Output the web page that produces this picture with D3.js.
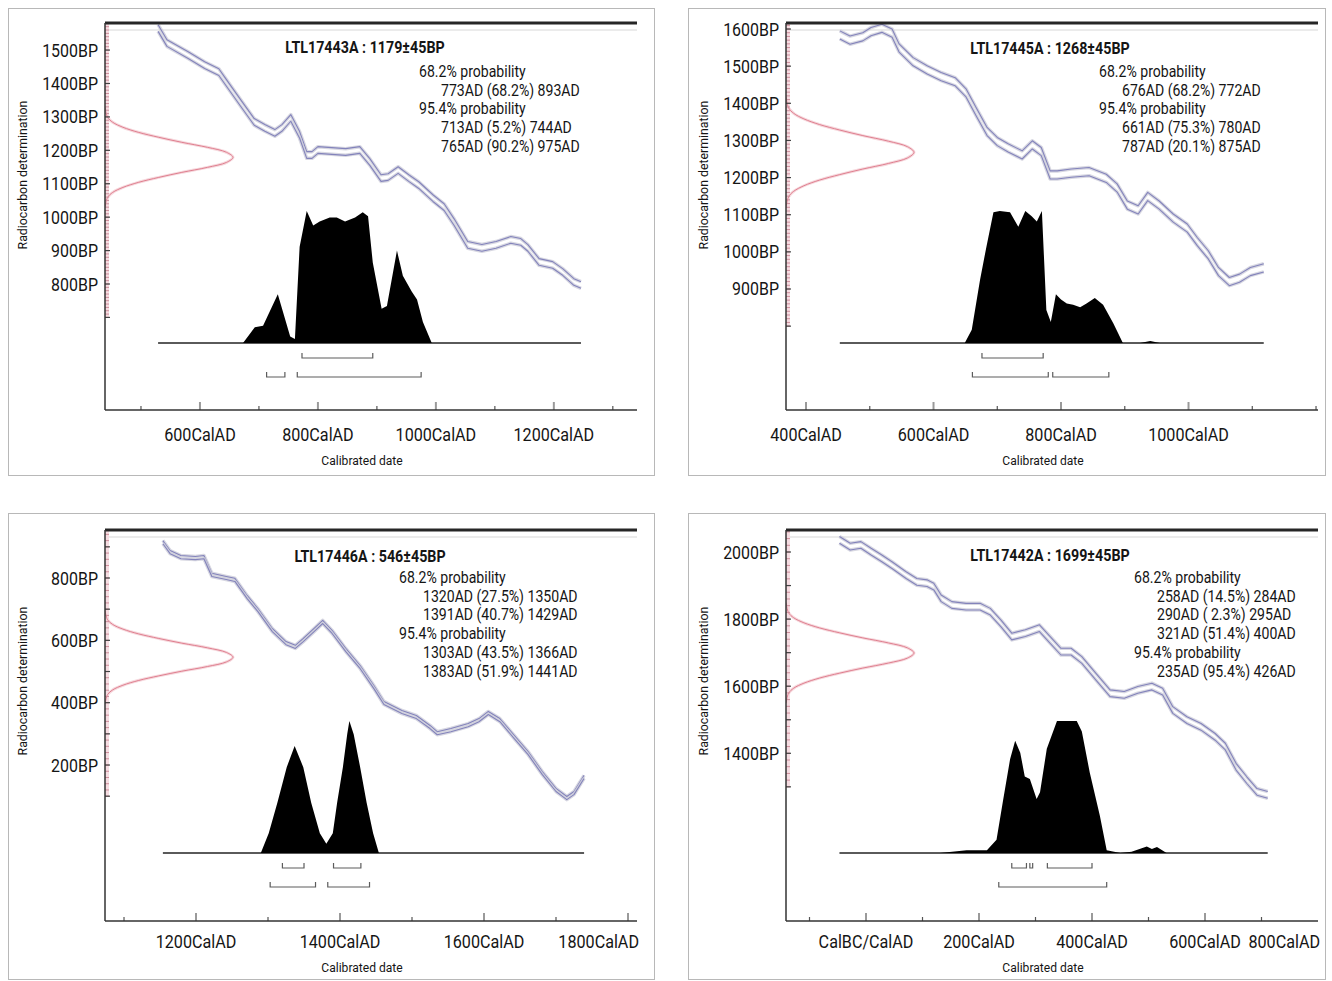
<!DOCTYPE html>
<html>
<head>
<meta charset="utf-8">
<script src="https://d3js.org/d3.v7.min.js"></script>
<style>
  body { margin: 0; background: white; }
  text { font-family: Roboto, "Liberation Sans", sans-serif; fill: #151515; }
</style>
</head>
<body>
<div id="chart"></div>
<script>
// ---------- LTL17443A ----------
var p1Date = [1179, 45];
var p1Curve = [[529,1566],[544,1521],[580,1485],[608,1455],[632,1434],[644,1404],[668,1344],[692,1285],[710,1267],[727,1252],[739,1267],[754,1297],[769,1246],[781,1186],[790,1186],[800,1201],[847,1195],[871,1201],[888,1165],[907,1117],[919,1120],[936,1141],[954,1117],[971,1096],[995,1057],[1014,1030],[1031,985],[1054,917],[1078,908],[1102,917],[1127,932],[1144,926],[1156,908],[1175,866],[1198,857],[1215,836],[1234,806],[1246,797]];
var p1Density = [[673,0],[693,0.12],[707,0.13],[732,0.37],[753,0.05],[761,0.03],[769,0.73],[781,1.0],[792,0.89],[803,0.92],[820,0.95],[832,0.95],[846,0.92],[863,0.95],[876,0.99],[885,0.96],[893,0.61],[908,0.26],[917,0.28],[934,0.7],[944,0.51],[959,0.39],[968,0.33],[978,0.16],[993,0]];
var p1Range68 = [[773,893]];
var p1Range95 = [[713,744],[765,975]];
var p1Text = ["68.2% probability","773AD (68.2%) 893AD","95.4% probability","713AD (5.2%) 744AD","765AD (90.2%) 975AD"];
var p1XTicks = [600, 800, 1000, 1200];
var p1XLabels = ["600CalAD","800CalAD","1000CalAD","1200CalAD"];
var p1YTicks = [800, 900, 1000, 1100, 1200, 1300, 1400, 1500];

// ---------- LTL17445A ----------
var p2Date = [1268, 45];
var p2Curve = [[453,1584],[469,1570],[489,1579],[502,1593],[519,1602],[535,1589],[546,1549],[568,1512],[590,1490],[612,1472],[634,1458],[651,1428],[667,1377],[684,1324],[700,1297],[717,1280],[739,1261],[755,1288],[769,1270],[783,1207],[794,1207],[816,1212],[844,1216],[871,1198],[888,1172],[904,1126],[921,1113],[936,1149],[954,1126],[976,1091],[998,1064],[1014,1027],[1031,992],[1047,947],[1064,920],[1080,929],[1097,947],[1118,957]];
var p2Density = [[649,0],[660,0.1],[673,0.48],[683,0.73],[694,0.99],[704,1.0],[720,0.99],[733,0.88],[744,1.0],[754,0.96],[762,0.92],[770,1.0],[777,0.25],[784,0.16],[792,0.37],[800,0.33],[809,0.3],[819,0.29],[830,0.27],[840,0.3],[853,0.34],[866,0.29],[882,0.15],[897,0],[924,0],[940,0.015],[955,0]];
var p2Range68 = [[676,772]];
var p2Range95 = [[661,780],[787,875]];
var p2Text = ["68.2% probability","676AD (68.2%) 772AD","95.4% probability","661AD (75.3%) 780AD","787AD (20.1%) 875AD"];
var p2XTicks = [400, 600, 800, 1000];
var p2XLabels = ["400CalAD","600CalAD","800CalAD","1000CalAD"];
var p2YTicks = [900, 1000, 1100, 1200, 1300, 1400, 1500, 1600];

// ---------- LTL17446A ----------
var p3Date = [546, 45];
var p3Curve = [[1154,915],[1164,883],[1179,867],[1199,864],[1211,867],[1222,810],[1242,800],[1254,794],[1271,739],[1286,697],[1306,633],[1325,591],[1338,579],[1349,601],[1364,633],[1376,659],[1389,627],[1408,569],[1428,514],[1447,450],[1461,399],[1486,370],[1506,354],[1525,322],[1535,302],[1554,312],[1578,328],[1593,344],[1606,367],[1622,344],[1642,290],[1661,239],[1681,174],[1700,120],[1715,94],[1725,110],[1739,162]];
var p3Density = [[1290,0],[1301,0.15],[1313,0.38],[1326,0.65],[1337,0.81],[1349,0.65],[1360,0.38],[1372,0.15],[1381,0.07],[1390,0.15],[1396,0.38],[1404,0.65],[1410,0.9],[1413,1],[1419,0.9],[1428,0.65],[1437,0.38],[1446,0.15],[1454,0]];
var p3Range68 = [[1320,1350],[1391,1429]];
var p3Range95 = [[1303,1366],[1383,1441]];
var p3Text = ["68.2% probability","1320AD (27.5%) 1350AD","1391AD (40.7%) 1429AD","95.4% probability","1303AD (43.5%) 1366AD","1383AD (51.9%) 1441AD"];
var p3XTicks = [1200, 1400, 1600, 1800];
var p3XLabels = ["1200CalAD","1400CalAD","1600CalAD","1800CalAD"];
var p3YTicks = [200, 400, 600, 800];

// ---------- LTL17442A ----------
var p4Date = [1699, 45];
var p4Curve = [[-47,2036],[-28,2016],[-9,2021],[9,2001],[28,1981],[46,1961],[71,1931],[90,1911],[108,1907],[120,1897],[133,1862],[152,1842],[177,1837],[202,1837],[220,1822],[239,1787],[258,1748],[282,1758],[307,1773],[326,1738],[345,1703],[363,1703],[382,1678],[407,1628],[432,1579],[457,1574],[481,1589],[506,1599],[525,1584],[543,1529],[568,1499],[593,1479],[618,1449],[636,1420],[655,1360],[674,1320],[692,1285],[711,1276]];
var p4Density = [[131,0],[178,0.02],[214,0.02],[231,0.1],[243,0.41],[255,0.71],[264,0.85],[273,0.76],[281,0.58],[290,0.56],[302,0.41],[308,0.46],[320,0.79],[338,1.0],[355,1.0],[373,1.0],[382,0.92],[396,0.61],[414,0.28],[426,0.02],[450,0],[470,0.01],[497,0.05],[506,0.03],[515,0.045],[532,0]];
var p4Range68 = [[258,284],[290,295],[321,400]];
var p4Range95 = [[235,426]];
var p4Text = ["68.2% probability","258AD (14.5%) 284AD","290AD ( 2.3%) 295AD","321AD (51.4%) 400AD","95.4% probability","235AD (95.4%) 426AD"];
var p4XTicks = [0, 200, 400, 600, 800];
var p4XLabels = ["CalBC/CalAD","200CalAD","400CalAD","600CalAD","800CalAD"];
var p4YTicks = [1400, 1600, 1800, 2000];

var measProfile = [[-150,0],[-120,0.02],[-105,0.06],[-90,0.14],[-75,0.26],[-60,0.42],[-45,0.6],[-30,0.8],[-15,0.95],[0,1],[15,0.95],[30,0.8],[45,0.6],[60,0.42],[75,0.26],[90,0.14],[105,0.06],[120,0.02],[150,0]];

var panels = [
  {title: "LTL17443A : " + p1Date[0] + "\u00b1" + p1Date[1] + "BP", date: p1Date, curve: p1Curve, err: 10,
   density: p1Density, r68: p1Range68, r95: p1Range95, text: p1Text,
   xTicks: p1XTicks, xLabels: p1XLabels, yTicks: p1YTicks, pinkStep: 10,
   frame: [8, 8, 646, 467], l: 105, r: 637, t: 23, b: 410, xDom: [439, 1341], yDom: [423, 1581],
   base: 343, tx: [419, 441], ty: 77, titleX: 365, titleY: 53, xLabY: 441, xTitleY: 465, yTitleX: 27, yTitleY: 175},
  {title: "LTL17445A : " + p2Date[0] + "\u00b1" + p2Date[1] + "BP", date: p2Date, curve: p2Curve, err: 11,
   density: p2Density, r68: p2Range68, r95: p2Range95, text: p2Text,
   xTicks: p2XTicks, xLabels: p2XLabels, yTicks: p2YTicks, pinkStep: 10,
   frame: [688, 8, 637, 467], l: 786, r: 1318, t: 23, b: 410, xDom: [368.6, 1203.1], yDom: [574.2, 1616.2],
   base: 343, tx: [1099, 1122], ty: 77, titleX: 1050, titleY: 54, xLabY: 441, xTitleY: 465, yTitleX: 708, yTitleY: 175},
  {title: "LTL17446A : " + p3Date[0] + "\u00b1" + p3Date[1] + "BP", date: p3Date, curve: p3Curve, err: 5,
   density: p3Density, r68: p3Range68, r95: p3Range95, text: p3Text,
   xTicks: p3XTicks, xLabels: p3XLabels, yTicks: p3YTicks, pinkStep: 20,
   frame: [8, 513, 646, 466], l: 105, r: 637, t: 530, b: 921, xDom: [1073.6, 1812.5], yDom: [-300.4, 954],
   base: 853, tx: [399, 423], ty: 583, titleX: 370, titleY: 562, xLabY: 948, xTitleY: 972, yTitleX: 27, yTitleY: 681},
  {title: "LTL17442A : " + p4Date[0] + "\u00b1" + p4Date[1] + "BP", date: p4Date, curve: p4Curve, err: 10,
   density: p4Density, r68: p4Range68, r95: p4Range95, text: p4Text,
   xTicks: p4XTicks, xLabels: p4XLabels, yTicks: p4YTicks, pinkStep: 20,
   frame: [688, 513, 637, 466], l: 786, r: 1318, t: 530, b: 921, xDom: [-141.6, 800], yDom: [900.1, 2065.6],
   base: 853, tx: [1134, 1157], ty: 583, titleX: 1050, titleY: 561, xLabY: 948, xTitleY: 972, yTitleX: 708, yTitleY: 681}
];

var svg = d3.select("#chart").append("svg")
  .attr("width", 1332).attr("height", 981)
  .style("display", "block");
var defs = svg.append("defs");

// text with a horizontal squeeze (the original face is condensed)
function txt(g, x, y, s, size, sx, anchor, weight) {
  return g.append("text")
    .attr("transform", "translate(" + x + "," + y + ") scale(" + sx + ",1)")
    .attr("text-anchor", anchor)
    .style("font-size", size + "px")
    .style("font-weight", weight || 400)
    .style("white-space", "pre")
    .text(s);
}

panels.forEach(function(P, i) {
  var g = svg.append("g");

  g.append("rect")
    .attr("x", P.frame[0] + 0.5).attr("y", P.frame[1] + 0.5)
    .attr("width", P.frame[2]).attr("height", P.frame[3])
    .attr("fill", "none").attr("stroke", "#b8b8b8");

  var x = d3.scaleLinear().domain(P.xDom).range([P.l, P.r]);
  var y = d3.scaleLinear().domain(P.yDom).range([P.b, P.t]);
  var yd = d3.scaleLinear().domain([0, 1]).range([P.base, P.base - 132]);
  var rx = d3.scaleLinear().domain([0, 1]).range([P.l, P.l + 128]);

  defs.append("clipPath").attr("id", "clip" + i)
    .append("rect").attr("x", P.l).attr("y", P.t)
    .attr("width", P.r - P.l).attr("height", P.b - P.t);
  var plot = g.append("g").attr("clip-path", "url(#clip" + i + ")");

  // faint line under the top border
  plot.append("line").attr("x1", P.l).attr("x2", P.r)
    .attr("y1", P.t + 7).attr("y2", P.t + 7)
    .attr("stroke", "#e4e4e4").attr("stroke-width", 1.5);

  // pink band along the left axis
  plot.append("rect").attr("x", P.l).attr("y", P.t)
    .attr("width", 4).attr("height", y(d3.min(P.yTicks) - 100) - P.t)
    .attr("fill", "#f6dde2");

  // radiocarbon measurement
  var meas = d3.line().curve(d3.curveCatmullRom)
    .x(function(d) { return rx(d[1]); })
    .y(function(d) { return y(P.date[0] + d[0]); });
  plot.append("path").datum(measProfile).attr("d", meas)
    .attr("fill", "none").attr("stroke", "#f6d8dd").attr("stroke-width", 3);
  plot.append("path").datum(measProfile).attr("d", meas)
    .attr("fill", "none").attr("stroke", "#df7f8f").attr("stroke-width", 1);

  // calibration curve (two envelope lines)
  [1, -1].forEach(function(s) {
    var ln = d3.line().x(function(d) { return x(d[0]); })
                      .y(function(d) { return y(d[1] + s * P.err); });
    plot.append("path").datum(P.curve).attr("d", ln)
      .attr("fill", "none").attr("stroke", "#cdcdd9").attr("stroke-width", 3.5)
      .attr("stroke-linejoin", "round").attr("opacity", 0.8);
    plot.append("path").datum(P.curve).attr("d", ln)
      .attr("fill", "none").attr("stroke", "#8383bb").attr("stroke-width", 1.1)
      .attr("stroke-linejoin", "round");
  });

  // baseline of the calibrated distribution
  var cx = d3.extent(P.curve, function(d) { return d[0]; });
  plot.append("line").attr("x1", x(cx[0])).attr("x2", x(cx[1]))
    .attr("y1", P.base).attr("y2", P.base)
    .attr("stroke", "#5a5a5a").attr("stroke-width", 2);

  // calibrated distribution
  plot.append("path").datum(P.density)
    .attr("d", d3.area().x(function(d) { return x(d[0]); })
                        .y0(P.base).y1(function(d) { return yd(d[1]); }))
    .attr("fill", "#000");

  // range brackets
  [[P.r68, P.base + 15], [P.r95, P.base + 34]].forEach(function(row) {
    plot.selectAll(null).data(row[0]).enter().append("path")
      .attr("d", function(d) {
        return "M" + x(d[0]) + "," + (row[1] - 5) + "V" + row[1] + "H" + x(d[1]) + "V" + (row[1] - 5);
      })
      .attr("fill", "none").attr("stroke", "#5c5c5c").attr("stroke-width", 1.2);
  });

  // y ticks: pink minor, dark 100BP
  var yLow = d3.min(P.yTicks) - 100;
  var pink = d3.range(yLow, P.yDom[1], P.pinkStep);
  g.selectAll(null).data(pink).enter().append("line")
    .attr("x1", P.l).attr("x2", P.l + 4)
    .attr("y1", function(d) { return y(d); }).attr("y2", function(d) { return y(d); })
    .attr("stroke", "#cf8f9c").attr("stroke-width", 1);
  var hund = d3.range(yLow, P.yDom[1], 100);
  g.selectAll(null).data(hund).enter().append("line")
    .attr("x1", P.l).attr("x2", P.l + 5)
    .attr("y1", function(d) { return y(d); }).attr("y2", function(d) { return y(d); })
    .attr("stroke", "#444").attr("stroke-width", 1.2);

  // x ticks
  var minor = d3.range(Math.ceil(P.xDom[0] / 100) * 100, P.xDom[1], 100);
  g.selectAll(null).data(minor).enter().append("line")
    .attr("x1", function(d) { return x(d); }).attr("x2", function(d) { return x(d); })
    .attr("y1", P.b).attr("y2", function(d) { return P.xTicks.indexOf(d) >= 0 ? P.b - 8 : P.b - 4; })
    .attr("stroke", function(d) { return P.xTicks.indexOf(d) >= 0 ? "#9a9a9a" : "#555"; })
    .attr("stroke-width", function(d) { return P.xTicks.indexOf(d) >= 0 ? 2 : 1.2; });

  // frame lines of the plot
  g.append("line").attr("x1", P.l).attr("x2", P.r).attr("y1", P.t).attr("y2", P.t)
    .attr("stroke", "#262626").attr("stroke-width", 3);
  g.append("line").attr("x1", P.l).attr("x2", P.l).attr("y1", P.t).attr("y2", P.b)
    .attr("stroke", "#333").attr("stroke-width", 1.5);
  g.append("line").attr("x1", P.l).attr("x2", P.r).attr("y1", P.b).attr("y2", P.b)
    .attr("stroke", "#333").attr("stroke-width", 1.5);

  // y tick labels
  P.yTicks.forEach(function(v) {
    txt(g, P.l - 7, y(v) + 6.5, v + "BP", 19, 0.84, "end");
  });

  // x tick labels (last one kept inside the plot)
  P.xTicks.forEach(function(v, k) {
    var t = txt(g, x(v), P.xLabY, P.xLabels[k], 19, 0.85, "middle");
    var w = t.node().getComputedTextLength() * 0.85;
    if (x(v) + w / 2 > P.r + 2) {
      t.attr("transform", "translate(" + (P.r + 2 - w / 2) + "," + P.xLabY + ") scale(0.85,1)");
    }
  });

  // axis titles
  txt(g, (P.l + P.r) / 2 - 9, P.xTitleY, "Calibrated date", 13, 0.93, "middle");
  g.append("text")
    .attr("transform", "translate(" + P.yTitleX + "," + P.yTitleY + ") rotate(-90) scale(0.95,1)")
    .attr("text-anchor", "middle").style("font-size", "13px")
    .text("Radiocarbon determination");

  // title and probability ranges
  txt(g, P.titleX, P.titleY, P.title, 17, 0.84, "middle", 700);
  P.text.forEach(function(s, k) {
    var head = /probability$/.test(s);
    txt(g, head ? P.tx[0] : P.tx[1], P.ty + k * 18.7, s, 16, 0.88, "start");
  });
});
</script>
</body>
</html>
